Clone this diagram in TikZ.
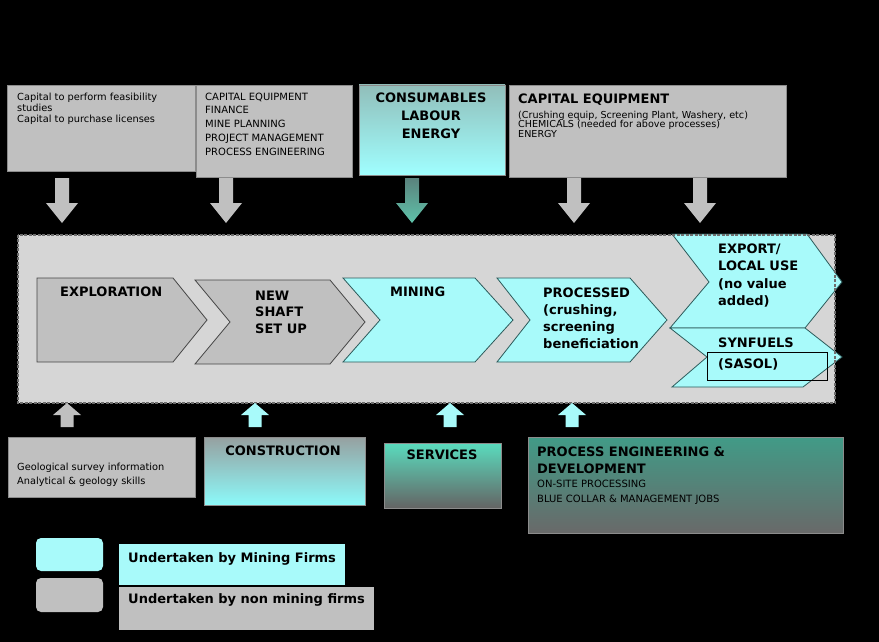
\documentclass[tikz,border=0pt]{standalone}
\usepackage{fontspec}
\setmainfont{DejaVu Sans}
\definecolor{cyanfill}{RGB}{168,250,250}
\definecolor{grayfill}{RGB}{192,192,192}
\definecolor{panelfill}{RGB}{214,214,214}
\definecolor{boxedge}{RGB}{140,140,140}
\definecolor{cyanedge}{RGB}{45,90,90}
\definecolor{grayedge}{RGB}{70,70,70}
\definecolor{dashgray}{RGB}{110,110,110}
\begin{document}
% multi-line labels are anchored at the baseline of their last line
\begin{tikzpicture}[x=1pt,y=-1pt,
  lbl/.style={inner sep=0pt, align=left, font=\bfseries\fontsize{13}{17}\selectfont},
  small/.style={inner sep=0pt, align=left, font=\fontsize{9.8}{11}\selectfont},
  graybox/.style={fill=grayfill, draw=boxedge, line width=0.6pt, inner sep=0pt},
  cyanbox/.style={fill=cyanfill, draw=boxedge, line width=0.6pt, inner sep=0pt},
  chevcyan/.style={fill=cyanfill, draw=cyanedge, line width=0.8pt, line join=miter},
  chevgray/.style={fill=grayfill, draw=grayedge, line width=0.8pt, line join=miter},
  dnarrow/.pic={\path[pic actions] (-7,0) -- (7,0) -- (7,25) -- (16,25) -- (0,45) -- (-16,25) -- (-7,25) -- cycle;},
  uparrow/.pic={\path[pic actions] (-6.5,0) -- (6.5,0) -- (6.5,-12) -- (14,-12) -- (0,-24) -- (-14,-12) -- (-6.5,-12) -- cycle;}
]
% black page
\fill[black] (0,0) rectangle (879,642);
\useasboundingbox (0,0) rectangle (879,642);

% ---------- inputs along the top ----------
\node[graybox, minimum width=188pt, minimum height=86pt] (capA) at (101,128) {};
\node[graybox, minimum width=156pt, minimum height=92pt] (capB) at (274,131) {};
\node[draw=boxedge, line width=0.6pt, inner sep=0pt, minimum width=146pt, minimum height=90pt,
      top color={rgb,255:red,145;green,190;blue,186}, bottom color={rgb,255:red,160;green,255;blue,255}] (capC) at (432,130) {};
\node[graybox, minimum width=277pt, minimum height=92pt] (capD) at (647.5,131) {};

\node[small, anchor=base west] (capAtxt) at (17,122) {Capital to perform feasibility\\studies\\Capital to purchase licenses};
\node[small, anchor=base west, font=\fontsize{10}{13.8}\selectfont] (capBtxt) at (205,155.2)
  {CAPITAL EQUIPMENT\\FINANCE\\MINE PLANNING\\PROJECT MANAGEMENT\\PROCESS ENGINEERING};
\node[lbl, align=center, anchor=base, font=\bfseries\fontsize{13}{18}\selectfont] (capCtxt) at (431,139) {CONSUMABLES\\LABOUR\\ENERGY};
\node[lbl, anchor=base west] (capDhead) at (518,103) {CAPITAL EQUIPMENT};
\node[small, anchor=base west, font=\fontsize{9.6}{9.8}\selectfont] (capDtxt) at (518,137.6)
  {(Crushing equip, Screening Plant, Washery, etc)\\CHEMICALS (needed for above processes)\\ENERGY};

% down arrows into the value chain
\pic[fill=grayfill] at (62,178) {dnarrow};
\pic[fill=grayfill] at (226,178) {dnarrow};
\pic[top color={rgb,255:red,90;green,130;blue,125}, bottom color={rgb,255:red,95;green,195;blue,170}] at (412,178) {dnarrow};
\pic[fill=grayfill] at (574,178) {dnarrow};
\pic[fill=grayfill] at (700,178) {dnarrow};

% ---------- value chain panel ----------
\node[fill=panelfill, inner sep=0pt, minimum width=817pt, minimum height=168pt] (chain) at (426.5,319) {};

\draw[chevgray] (37,278) -- (173,278) -- (207,320) -- (173,362) -- (37,362) -- cycle;
\draw[chevgray] (195,280) -- (330,280) -- (365,322) -- (330,364) -- (195,364) -- (230,322) -- cycle;
\draw[chevcyan] (343,278) -- (475,278) -- (513,320) -- (475,362) -- (343,362) -- (380,320) -- cycle;
\draw[chevcyan] (497,278) -- (630,278) -- (667,320) -- (630,362) -- (497,362) -- (530,320) -- cycle;
\draw[chevcyan] (672,234) -- (807,234) -- (842,282) -- (805,328) -- (670,328) -- (709,282) -- cycle;
\draw[chevcyan] (670,328) -- (805,328) -- (842,357) -- (803,387) -- (672,387) -- (707,357) -- cycle;
\draw[black, line width=0.8pt] (707,352) rectangle (827,380);

\draw[dashgray, line width=2pt, dash pattern=on 3pt off 1.5pt] (chain.north west) rectangle (chain.south east);

\node[lbl, anchor=base west] (explo) at (60,296) {EXPLORATION};
\node[lbl, anchor=base west, font=\bfseries\fontsize{13}{16.5}\selectfont] (shaft) at (255,333) {NEW\\SHAFT\\SET UP};
\node[lbl, anchor=base west] (mining) at (390,296) {MINING};
\node[lbl, anchor=base west] (proc) at (543,348) {PROCESSED\\(crushing,\\screening\\beneficiation};
\node[lbl, anchor=base west, font=\bfseries\fontsize{13}{17.6}\selectfont] (export) at (718,305.8) {EXPORT/\\LOCAL USE\\(no value\\added)};
\node[lbl, anchor=base west] (synf) at (718,347) {SYNFUELS};
\node[lbl, anchor=base west] (sasol) at (718,368) {(SASOL)};

% up arrows from the supporting activities
\pic[fill=grayfill] at (67,427) {uparrow};
\pic[fill=cyanfill] at (255,427) {uparrow};
\pic[fill=cyanfill] at (450,427) {uparrow};
\pic[fill=cyanfill] at (572,427) {uparrow};

% ---------- supporting activities ----------
\node[graybox, minimum width=187pt, minimum height=60pt] (geo) at (101.5,467) {};
\node[draw=boxedge, line width=0.6pt, inner sep=0pt, minimum width=161pt, minimum height=68pt,
      top color={rgb,255:red,150;green,160;blue,160}, bottom color={rgb,255:red,140;green,250;blue,250}] (constr) at (284.5,471) {};
\node[draw=boxedge, line width=0.6pt, inner sep=0pt, minimum width=117pt, minimum height=65pt,
      top color={rgb,255:red,90;green,220;blue,190}, bottom color={rgb,255:red,100;green,100;blue,100}] (serv) at (442.5,475.5) {};
\node[draw=boxedge, line width=0.6pt, inner sep=0pt, minimum width=315pt, minimum height=96pt,
      top color={rgb,255:red,65;green,155;blue,135}, bottom color={rgb,255:red,105;green,105;blue,105}] (proceng) at (685.5,485) {};

\node[small, anchor=base west, font=\fontsize{9.8}{14}\selectfont] (geotxt) at (17,484) {Geological survey information\\Analytical \& geology skills};
\node[lbl, anchor=base] (constrtxt) at (283,455) {CONSTRUCTION};
\node[lbl, anchor=base] (servtxt) at (442,459) {SERVICES};
\node[lbl, anchor=base west] (procenghead) at (537,473) {PROCESS ENGINEERING \&\\DEVELOPMENT};
\node[small, anchor=base west, font=\fontsize{10}{15}\selectfont] (procengtxt) at (537,502) {ON-SITE PROCESSING\\BLUE COLLAR \& MANAGEMENT JOBS};

% ---------- legend ----------
\node[fill=cyanfill, rounded corners=5pt, inner sep=0pt, minimum width=67pt, minimum height=33pt] (keycyan) at (69.5,554.5) {};
\node[fill=grayfill, rounded corners=5pt, inner sep=0pt, minimum width=67pt, minimum height=34pt] (keygray) at (69.5,595) {};
\node[fill=cyanfill, inner sep=0pt, minimum width=226pt, minimum height=41pt] (keycyanbox) at (232,564.5) {};
\node[fill=grayfill, inner sep=0pt, minimum width=255pt, minimum height=43pt] (keygraybox) at (246.5,608.5) {};
\node[lbl, anchor=base west] (keycyantxt) at (128,562) {Undertaken by Mining Firms};
\node[lbl, anchor=base west] (keygraytxt) at (128,603) {Undertaken by non mining firms};
\end{tikzpicture}
\end{document}
